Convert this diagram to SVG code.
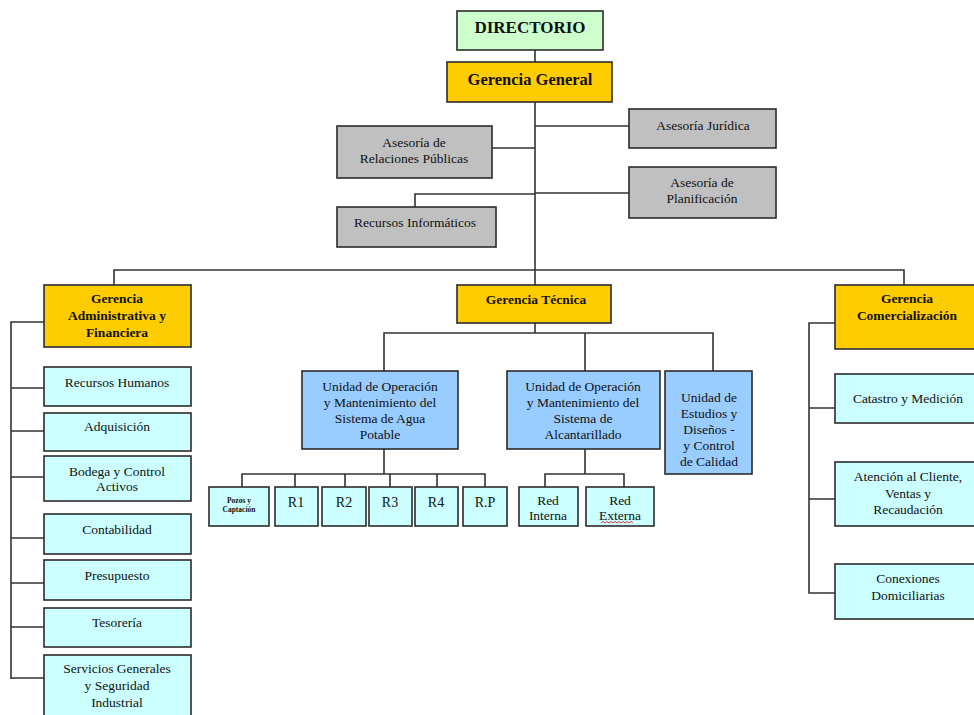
<svg xmlns="http://www.w3.org/2000/svg" width="974" height="715" viewBox="0 0 974 715">
  <style>
    .box { stroke: #2b2b2b; stroke-width: 1.6; }
    .dir { fill: #CCFFCC; }
    .ger { fill: #FFCC00; }
    .ase { fill: #C0C0C0; }
    .dep { fill: #CCFFFF; }
    .uni { fill: #99CCFF; }
    .wire { fill: none; stroke: #333; stroke-width: 1.6; }
    text { font-family: "Liberation Serif", "Times New Roman", serif; fill: #111; text-anchor: middle; font-size: 13.5px; }
    .b { font-weight: bold; }
    .big { font-size: 17px; font-weight: bold; }
    .gg { font-size: 16.5px; font-weight: bold; }
    .tiny { font-size: 7.5px; font-weight: bold; }
    .r { font-size: 14px; }
  </style>

  <!-- connectors -->
  <g id="connectors" class="wire">
    <path d="M535 50 V62 M535 102 V270"/>
    <path d="M535 126 H629 M492 148 H535 M535 193 H629 M535 194 H415 V207"/>
    <path d="M114 285 V270 H904 V285 M535 270 V285"/>
    <!-- administrative branch -->
    <path d="M44 322 H11 V679 M11 388 H44 M11 431 H44 M11 477 H44 M11 538 H44 M11 583 H44 M11 627 H44 M11 678 H44"/>
    <!-- technical branch -->
    <path d="M535 323 V333 M384 371 V333 H713 V371 M585 333 V371"/>
    <path d="M384 449 V474 M242 487 V474 H485 V487 M295 474 V487 M345 474 V487 M390 474 V487 M437 474 V487"/>
    <path d="M585 449 V474 M545 487 V474 H624 V487"/>
    <!-- commercial branch -->
    <path d="M835 323 H809 V593 H835 M809 408 H835 M809 499 H835"/>
  </g>

  <g id="directorio">
    <rect class="box dir" x="457" y="11" width="146" height="39"/>
    <text class="big" x="530" y="33">DIRECTORIO</text>
  </g>
  <g id="gerencia-general">
    <rect class="box ger" x="447" y="62" width="165" height="40"/>
    <text class="gg" x="530" y="85">Gerencia General</text>
  </g>

  <g id="asesoria-juridica">
    <rect class="box ase" x="629" y="109" width="147" height="39"/>
    <text x="703" y="130">Asesoría Jurídica</text>
  </g>
  <g id="asesoria-relaciones">
    <rect class="box ase" x="337" y="126" width="155" height="52"/>
    <text x="414" y="147">Asesoría de</text>
    <text x="414" y="163">Relaciones Públicas</text>
  </g>
  <g id="asesoria-planificacion">
    <rect class="box ase" x="629" y="167" width="147" height="51"/>
    <text x="702" y="187">Asesoría de</text>
    <text x="702" y="203">Planificación</text>
  </g>
  <g id="recursos-informaticos">
    <rect class="box ase" x="337" y="207" width="159" height="40"/>
    <text x="415" y="227">Recursos Informáticos</text>
  </g>

  <!-- Gerencia Administrativa y Financiera -->
  <g id="gerencia-administrativa">
    <rect class="box ger" x="44" y="285" width="147" height="62"/>
    <text class="b" x="117" y="303">Gerencia</text>
    <text class="b" x="117" y="320">Administrativa y</text>
    <text class="b" x="117" y="337">Financiera</text>
  </g>
  <g id="recursos-humanos">
    <rect class="box dep" x="44" y="367" width="147" height="39"/>
    <text x="117" y="387">Recursos Humanos</text>
  </g>
  <g id="adquisicion">
    <rect class="box dep" x="44" y="413" width="147" height="38"/>
    <text x="117" y="431">Adquisición</text>
  </g>
  <g id="bodega">
    <rect class="box dep" x="44" y="456" width="147" height="45"/>
    <text x="117" y="476">Bodega y Control</text>
    <text x="117" y="491">Activos</text>
  </g>
  <g id="contabilidad">
    <rect class="box dep" x="44" y="514" width="147" height="40"/>
    <text x="117" y="534">Contabilidad</text>
  </g>
  <g id="presupuesto">
    <rect class="box dep" x="44" y="560" width="147" height="40"/>
    <text x="117" y="580">Presupuesto</text>
  </g>
  <g id="tesoreria">
    <rect class="box dep" x="44" y="608" width="147" height="39"/>
    <text x="117" y="627">Tesorería</text>
  </g>
  <g id="servicios-generales">
    <rect class="box dep" x="44" y="655" width="147" height="70"/>
    <text x="117" y="673">Servicios Generales</text>
    <text x="117" y="690">y  Seguridad</text>
    <text x="117" y="707">Industrial</text>
  </g>

  <!-- Gerencia Técnica -->
  <g id="gerencia-tecnica">
    <rect class="box ger" x="457" y="285" width="154" height="38"/>
    <text class="b" x="536" y="304">Gerencia Técnica</text>
  </g>
  <g id="unidad-agua-potable">
    <rect class="box uni" x="302" y="371" width="156" height="78"/>
    <text x="380" y="391">Unidad de Operación</text>
    <text x="380" y="407">y Mantenimiento del</text>
    <text x="380" y="423">Sistema de Agua</text>
    <text x="380" y="439">Potable</text>
  </g>
  <g id="unidad-alcantarillado">
    <rect class="box uni" x="507" y="371" width="153" height="78"/>
    <text x="583" y="391">Unidad de Operación</text>
    <text x="583" y="407">y Mantenimiento del</text>
    <text x="583" y="423">Sistema de</text>
    <text x="583" y="439">Alcantarillado</text>
  </g>
  <g id="unidad-estudios">
    <rect class="box uni" x="665" y="371" width="87" height="103"/>
    <text x="709" y="402">Unidad de</text>
    <text x="709" y="418">Estudios y</text>
    <text x="709" y="434">Diseños -</text>
    <text x="709" y="450">y Control</text>
    <text x="709" y="466">de Calidad</text>
  </g>

  <g id="pozos">
    <rect class="box dep" x="209" y="487" width="60" height="39"/>
    <text class="tiny" x="239" y="503">Pozos y</text>
    <text class="tiny" x="239" y="512">Captación</text>
  </g>
  <g id="r1">
    <rect class="box dep" x="275" y="487" width="43" height="39"/>
    <text class="r" x="296" y="507">R1</text>
  </g>
  <g id="r2">
    <rect class="box dep" x="322" y="487" width="44" height="39"/>
    <text class="r" x="344" y="507">R2</text>
  </g>
  <g id="r3">
    <rect class="box dep" x="369" y="487" width="43" height="39"/>
    <text class="r" x="390" y="507">R3</text>
  </g>
  <g id="r4">
    <rect class="box dep" x="415" y="487" width="43" height="39"/>
    <text class="r" x="436" y="507">R4</text>
  </g>
  <g id="rp">
    <rect class="box dep" x="463" y="487" width="44" height="39"/>
    <text class="r" x="485" y="507">R.P</text>
  </g>

  <g id="red-interna">
    <rect class="box dep" x="519" y="487" width="59" height="39"/>
    <text x="548" y="505">Red</text>
    <text x="548" y="520">Interna</text>
  </g>
  <g id="red-externa">
    <rect class="box dep" x="586" y="487" width="68" height="39"/>
    <text x="620" y="505">Red</text>
    <text x="620" y="520">Externa</text>
    <path d="M601 523 l2 -1.5 l2 1.5 l2 -1.5 l2 1.5 l2 -1.5 l2 1.5 l2 -1.5 l2 1.5 l2 -1.5 l2 1.5 l2 -1.5 l2 1.5 l2 -1.5 l2 1.5 l2 -1.5 l2 1.5" fill="none" stroke="#d22" stroke-width="0.9"/>
  </g>

  <!-- Gerencia Comercialización -->
  <g id="gerencia-comercializacion">
    <rect class="box ger" x="835" y="285" width="145" height="64"/>
    <text class="b" x="907" y="303">Gerencia</text>
    <text class="b" x="907" y="320">Comercialización</text>
  </g>
  <g id="catastro">
    <rect class="box dep" x="835" y="374" width="145" height="49"/>
    <text x="908" y="403">Catastro y Medición</text>
  </g>
  <g id="atencion-cliente">
    <rect class="box dep" x="835" y="462" width="145" height="64"/>
    <text x="908" y="481">Atención al Cliente,</text>
    <text x="908" y="498">Ventas y</text>
    <text x="908" y="514">Recaudación</text>
  </g>
  <g id="conexiones">
    <rect class="box dep" x="835" y="564" width="145" height="55"/>
    <text x="908" y="583">Conexiones</text>
    <text x="908" y="600">Domiciliarias</text>
  </g>
</svg>
